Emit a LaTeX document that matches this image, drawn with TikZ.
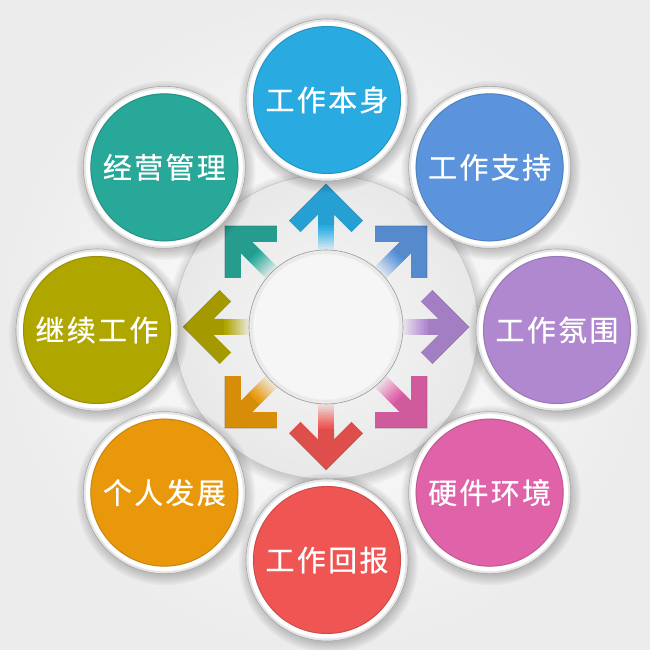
\documentclass[tikz,border=0pt]{standalone}
\usepackage{fontspec}
\usetikzlibrary{calc}
\newfontfamily\cjk[LetterSpace=8,FakeBold=0.6]{Noto Sans CJK SC}
\definecolor{cA}{HTML}{29ABE2}
\definecolor{cB}{HTML}{5B94DC}
\definecolor{cC}{HTML}{B088D0}
\definecolor{cD}{HTML}{E062A8}
\definecolor{cE}{HTML}{EF5552}
\definecolor{cF}{HTML}{E8980A}
\definecolor{cG}{HTML}{B0A600}
\definecolor{cH}{HTML}{28A898}
\definecolor{bgc}{HTML}{ECECEC}
\definecolor{ringc}{HTML}{EFEFEF}
\definecolor{discin}{HTML}{F7F7F7}
\definecolor{discout}{HTML}{E8E8E8}
\definecolor{discline}{HTML}{C4C4C4}
\definecolor{innerc}{HTML}{F6F6F6}
\definecolor{rimc}{HTML}{E6E6E6}
\definecolor{rimline}{HTML}{A8A8A8}
\tikzset{
  label/.style={circle, inner sep=0pt, minimum size=148pt, text=white,
    font=\cjk\fontsize{29}{29}\selectfont},
}
\begin{document}
\begin{tikzpicture}[x=1pt,y=1pt]
\useasboundingbox (0,0) rectangle (650,650);
\shade[inner color=white, outer color=bgc] (0,0) rectangle (650,650);
% central disc with soft shadow
\foreach \i in {0,...,6}
  \fill[black, opacity=0.025] (327,320) circle ({152+\i*1.6});
\shade[inner color=discin, outer color=discout] (326,323) circle (152);
\draw[discline, line width=0.6] (326,323) circle (152);
% arrows
\foreach \ang/\col in {90/cA, 45/cB, 0/cC, -45/cD, -90/cE, -135/cF, 180/cG, 135/cH}{
  \begin{scope}[shift={(326,323)}, rotate=\ang]
    \foreach \i in {0,...,13}{
      \pgfmathtruncatemacro\p{min(100,\i*8)}
      \fill[\col!\p!ringc] ({74+2*\i},-8) rectangle ({76.6+2*\i},8);
    }
    \fill[\col!93!black] (143,0) -- (106.2,36.8) -- (94.9,25.5) -- (112.4,8)
      -- (102,8) -- (102,-8) -- (112.4,-8) -- (94.9,-25.5) -- (106.2,-36.8) -- cycle;
    \draw[black, opacity=0.15, line width=0.8] (106.2,36.8) -- (143,0) -- (106.2,-36.8);
  \end{scope}
}
% inner circle
\fill[innerc] (326,323) circle (77);
\foreach \i in {0,...,3}
  \draw[black, opacity=0.04, line width=1.2] (326,323) circle ({76.5-\i*1.1});
\draw[black!40, line width=0.6] (326,323) circle (77);
% outer circles
\foreach \ang/\col/\txt/\nm in {90/cA/工作本身/n1, 45/cB/工作支持/n2, 0/cC/工作氛围/n3,
    -45/cD/硬件环境/n4, -90/cE/工作回报/n5, -135/cF/个人发展/n6,
    180/cG/继续工作/n7, 135/cH/经营管理/n8}{
  \begin{scope}[shift={(327,320)}]
    \coordinate (\nm c) at (\ang:230);
    \foreach \i in {0,...,6}
      \fill[black, opacity=0.03] ($(\nm c)+(1.5,-3)$) circle ({80+\i*1.6});
    \fill[rimc] (\nm c) circle (81);
    \fill[white] (\nm c) circle (78.5);
    \draw[rimline, line width=0.6] (\nm c) circle (81);
    \node[label, fill=\col] (\nm) at (\nm c) {\txt};
    \draw[black, opacity=0.12, line width=1.2] (\nm c) circle (73.6);
  \end{scope}
}
\end{tikzpicture}
\end{document}
